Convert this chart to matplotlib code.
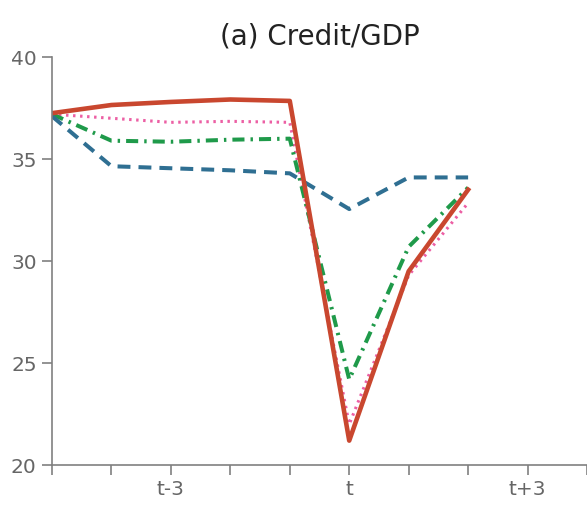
import numpy as np
import matplotlib.pyplot as plt

# event time relative to crisis (t = 0)
periods = [-5, -4, -3, -2, -1, 0, 1, 2]
tick_pos = [-5, -4, -3, -2, -1, 0, 1, 2, 3, 4]
tick_lab = ['', '', 't-3', '', '', 't', '', '', 't+3', '']

# series
red_solid = [37.25, 37.65, 37.8, 37.92, 37.85, 21.2, 29.5, 33.5]
pink_dot = [37.2, 37.0, 36.8, 36.85, 36.8, 22.0, 29.3, 32.85]
green_dd = [37.2, 35.9, 35.85, 35.95, 36.0, 24.2, 30.7, 33.6]
blue_dash = [37.1, 34.65, 34.55, 34.45, 34.3, 32.55, 34.1, 34.1]

fig = plt.figure(figsize=(5.87, 5.05), dpi=100)
ax = fig.add_axes([0.0886, 0.079, 0.9114, 0.808])

ax.plot(periods, pink_dot, color='#ec5fa4', lw=2.2, ls=(0, (0.8, 1.5)), solid_capstyle='butt')
ax.plot(periods, green_dd, color='#1f9a4a', lw=2.9, ls=(0, (3, 1.5, 0.6, 1.5)))
ax.plot(periods, blue_dash, color='#2f6f92', lw=2.9, ls=(0, (3.2, 2)))
ax.plot(periods, red_solid, color='#c9472f', lw=3.3)

ax.set_xlim(-5, 4)
ax.set_ylim(20, 40)
ax.set_yticks([20, 25, 30, 35, 40])
ax.set_xticks(tick_pos)
ax.set_xticklabels(tick_lab)

for s in ['top', 'right']:
    ax.spines[s].set_visible(False)
for s in ['left', 'bottom']:
    ax.spines[s].set_color('#808080')
    ax.spines[s].set_linewidth(1.2)
ax.tick_params(colors='#808080', labelcolor='#666666', length=7, width=1.2,
               labelsize=14.5, pad=4)

ax.set_title('(a) Credit/GDP', fontsize=20, color='#222222', pad=9)

fig.savefig('out.png', dpi=100)
